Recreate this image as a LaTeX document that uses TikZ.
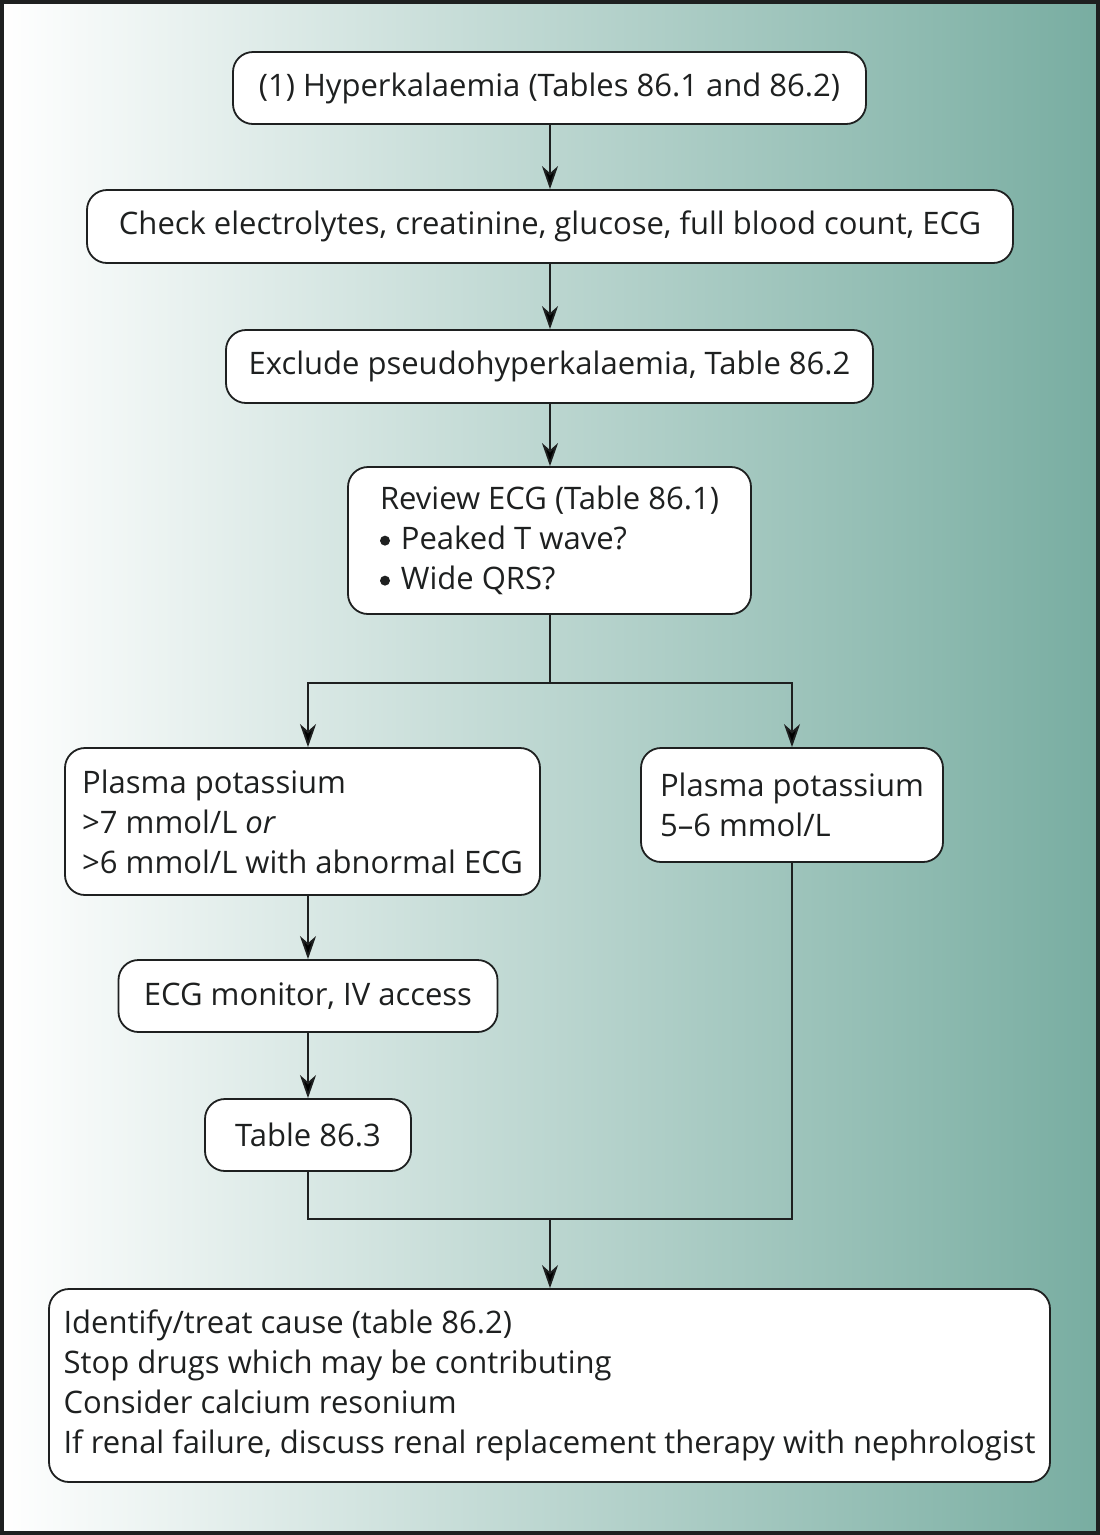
\documentclass[tikz,border=0pt]{standalone}
\usepackage{fontspec}
\setmainfont{Open Sans}
\usetikzlibrary{arrows.meta,calc}
\definecolor{tealend}{RGB}{120,173,161}
\definecolor{linec}{RGB}{30,32,32}
\newcommand{\bul}{\tikz[baseline=-9pt]\fill[linec] (0,0) circle (5pt);\hspace{0.35em}}
\begin{document}
\begin{tikzpicture}[x=1pt,y=-1pt,
  box/.style={draw=linec, line width=1.8pt, fill=white, rounded corners=20pt,
    font=\fontsize{31}{40}\selectfont, inner xsep=0pt, inner ysep=0pt, text=linec},
  arr/.style={draw=linec, line width=1.8pt, -{Stealth[length=23pt,width=16pt,inset=7pt]}},
  ln/.style={draw=linec, line width=1.8pt}]
\useasboundingbox (0,0) rectangle (1100,1535);
\shade[left color=white, right color=tealend] (0,0) rectangle (1100,1535);
\draw[line width=4pt, draw=linec] (2,2) rectangle (1098,1533);

\node[box, minimum width=633pt, minimum height=72pt] (n1) at (549.5,88) {(1) Hyperkalaemia (Tables 86.1 and 86.2)};
\node[box, minimum width=926pt, minimum height=73pt] (n2) at (550,226.5) {Check electrolytes, creatinine, glucose, full blood count, ECG};
\node[box, minimum width=647pt, minimum height=73pt] (n3) at (549.5,366.5) {Exclude pseudohyperkalaemia, Table 86.2};
\node[box, minimum width=403pt, minimum height=147pt, align=left] (n4) at (549.5,540.5) {Review ECG (Table 86.1)\\\bul Peaked T wave?\\\bul Wide QRS?};
\node[box, minimum width=475pt, minimum height=147pt, align=left] (n5) at (302.5,821.5) {Plasma potassium\\>7 mmol/L \textit{or}\\>6 mmol/L with abnormal ECG};
\node[box, minimum width=302pt, minimum height=114pt, align=left] (n6) at (792,805) {Plasma potassium\\5–6 mmol/L};
\node[box, minimum width=379pt, minimum height=72pt] (n7) at (308,996) {ECG monitor, IV access};
\node[box, minimum width=206pt, minimum height=72pt] (n8) at (308,1135) {Table 86.3};
\node[box, minimum width=1001pt, minimum height=193pt, align=left] (n9) at (549.5,1385.5) {Identify/treat cause (table 86.2)\\Stop drugs which may be contributing\\Consider calcium resonium\\If renal failure, discuss renal replacement therapy with nephrologist};

\coordinate (s) at (550,683);
\coordinate (m) at (550,1219);

\draw[arr] (n1.south -| s) -- (n2.north -| s);
\draw[arr] (n2.south -| s) -- (n3.north -| s);
\draw[arr] (n3.south -| s) -- (n4.north -| s);
\draw[ln] (n4.south -| s) -- (s);
\draw[arr] (s) -| (n5.north -| n7.north);
\draw[arr] (s) -| (n6.north);
\draw[arr] (n7.north |- n5.south) -- (n7.north);
\draw[arr] (n7.south) -- (n8.north);
\draw[ln] (n8.south) |- (m) -| (n6.south);
\draw[arr] (m) -- (m |- n9.north);
\end{tikzpicture}
\end{document}
